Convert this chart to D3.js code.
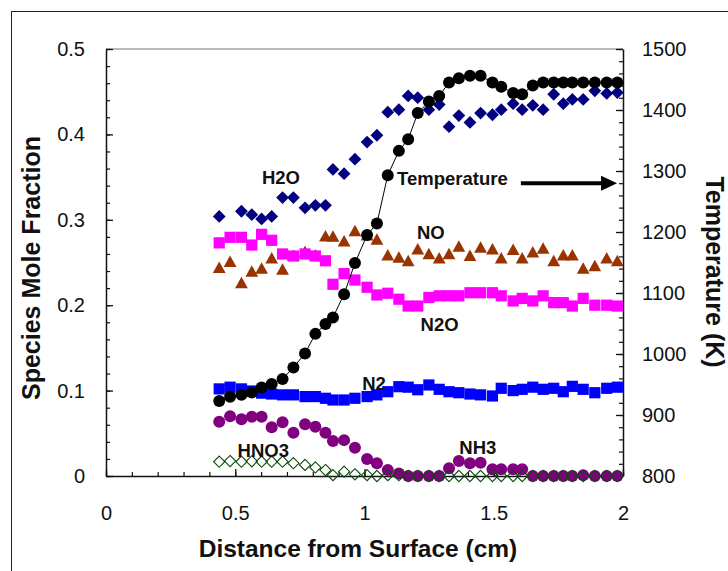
<!DOCTYPE html>
<html><head><meta charset="utf-8">
<script src="https://cdn.jsdelivr.net/npm/d3@7"></script>
<style>
html,body{margin:0;padding:0;background:#fff;}
svg{display:block;font-family:"Liberation Sans",Arial,sans-serif;}
</style></head>
<body><svg id="c" width="728" height="571"></svg>
<script>
// ---- data ----
const distance = [0.438,0.48,0.524,0.564,0.602,0.641,0.683,0.725,0.77,0.81,0.849,0.878,0.921,0.963,1.01,1.048,1.09,1.133,1.169,1.206,1.249,1.289,1.327,1.365,1.408,1.449,1.495,1.529,1.575,1.61,1.651,1.691,1.732,1.769,1.804,1.846,1.891,1.937,1.978];
const h2o = [0.304,null,0.310,0.306,0.301,0.304,0.326,0.326,0.314,0.317,0.317,0.359,0.354,0.371,0.391,0.399,0.426,0.429,0.445,0.443,0.429,0.435,0.409,0.422,0.414,0.425,0.423,0.429,0.436,0.429,0.434,0.429,0.447,0.436,0.441,0.441,0.451,0.448,0.449];
const no = [0.243,0.250,0.225,0.2385,0.242,0.254,0.241,0.257,0.2615,0.2576,0.280,0.2795,0.274,0.286,0.281,0.276,0.2576,0.255,0.251,0.2646,0.259,0.254,0.259,0.268,0.257,0.2666,0.2646,0.254,0.264,0.254,0.261,0.2655,0.251,0.2576,0.2576,0.242,0.245,0.254,0.251];
const n2o = [0.273,0.2795,0.2795,0.2705,0.283,0.276,0.26,0.2576,0.26,0.2576,0.252,0.2245,0.237,0.2295,0.221,0.212,0.214,0.207,0.199,0.199,0.209,0.211,0.211,0.211,0.2146,0.2146,0.2146,0.211,0.205,0.208,0.205,0.211,0.203,0.203,0.199,0.208,0.200,0.200,0.199];
const n2 = [0.102,0.104,0.102,0.0995,0.097,0.096,0.095,0.095,0.093,0.093,0.091,0.089,0.089,0.091,0.093,0.095,0.0987,0.1046,0.104,0.101,0.1066,0.1015,0.0987,0.0975,0.096,0.095,0.0937,0.1027,0.100,0.1015,0.104,0.1015,0.1027,0.0987,0.105,0.1015,0.0975,0.1027,0.104];
const nh3 = [0.0636,0.070,0.0664,0.0694,0.0694,0.057,0.063,0.0507,0.0605,0.0577,0.0507,0.041,0.042,0.033,0.020,0.015,0.007,0.003,0,0,0,0,0.009,0.0176,0.015,0.0156,0.0078,0.0078,0.0078,0.0078,0,0,0,0,0,0.001,0,0,0];
const hno3 = [0.0167,0.0175,0.0167,0.0172,0.0167,0.0167,0.0167,0.015,0.013,0.010,0.007,0.001,0.005,0.002,0.001,0,0.001,0.001,0,0,0,0,0,0,0,0,0,0,0,0,0,0,0,0,0,0,0,0,0];
const temperature = [923,930,933,937,945,951,959,978,1001,1033,1049,1060,1098,1149,1195,1214,1293,1333,1352,1395,1414,1423,1445,1452,1456,1456,1445,1438,1428,1426,1440,1445,1445,1445,1445,1445,1445,1445,1445];
const xTicks = [0,0.5,1,1.5,2];
const yTicks = [0,0.1,0.2,0.3,0.4,0.5];
const tTicks = [800,900,1000,1100,1200,1300,1400,1500];
const seriesLabels = [
  {text:"H2O", x:0.603, y:0.342},
  {text:"Temperature", x:1.126, y:0.3405},
  {text:"NO", x:1.203, y:0.278},
  {text:"N2O", x:1.217, y:0.170},
  {text:"N2", x:0.991, y:0.1005},
  {text:"HNO3", x:0.509, y:0.0217},
  {text:"NH3", x:1.367, y:0.0258}
];

// ---- layout ----
const L=106, R=623, T=49, B=476;
const svg = d3.select("#c");
const x = d3.scaleLinear().domain([0,2]).range([L,R]);
const y = d3.scaleLinear().domain([0,0.5]).range([B,T]);
const yT = d3.scaleLinear().domain([800,1500]).range([B,T]);

// outer frame
svg.append("rect").attr("x",11.5).attr("y",11.5).attr("width",800).attr("height",800)
  .attr("fill","none").attr("stroke","#222").attr("stroke-width",1);

// top gray border of plot area
svg.append("line").attr("x1",L).attr("x2",R).attr("y1",T).attr("y2",T)
  .attr("stroke","#a6a6a6").attr("stroke-width",1.5);

function styleAxis(g){
  g.selectAll(".domain").attr("stroke","#111").attr("stroke-width",1.5);
  g.selectAll(".tick line").attr("stroke","#111").attr("stroke-width",1.3);
  g.selectAll(".tick text").attr("fill","#111").style("font-size","20px")
    .style("font-family","'Liberation Sans',Arial,sans-serif");
}
// minor ticks
svg.append("g").attr("transform",`translate(${L},0)`)
  .call(d3.axisLeft(y).tickValues(d3.range(0,0.5001,0.02)).tickSizeInner(-4).tickSizeOuter(0).tickFormat(""))
  .call(g=>{g.select(".domain").remove(); g.selectAll(".tick line").attr("stroke","#111").attr("stroke-width",1.2);});
svg.append("g").attr("transform",`translate(${R},0)`)
  .call(d3.axisRight(yT).tickValues(d3.range(800,1500.1,20)).tickSizeInner(-4).tickSizeOuter(0).tickFormat(""))
  .call(g=>{g.select(".domain").remove(); g.selectAll(".tick line").attr("stroke","#111").attr("stroke-width",1.2);});
svg.append("g").attr("transform",`translate(0,${B})`)
  .call(d3.axisBottom(x).tickValues(d3.range(0,2.001,0.1)).tickSizeInner(-4).tickSizeOuter(0).tickFormat(""))
  .call(g=>{g.select(".domain").remove(); g.selectAll(".tick line").attr("stroke","#111").attr("stroke-width",1.2);});

// main axes
svg.append("g").attr("transform",`translate(${L},0)`)
  .call(d3.axisLeft(y).tickValues(yTicks).tickSizeInner(-7).tickSizeOuter(0).tickPadding(21).tickFormat(d3.format("")))
  .call(styleAxis);
svg.append("g").attr("transform",`translate(${R},0)`)
  .call(d3.axisRight(yT).tickValues(tTicks).tickSizeInner(-7).tickSizeOuter(0).tickPadding(19).tickFormat(d3.format("d")))
  .call(styleAxis);
svg.append("g").attr("transform",`translate(0,${B})`)
  .call(d3.axisBottom(x).tickValues(xTicks).tickSizeInner(-7).tickSizeOuter(0).tickPadding(30).tickFormat(d3.format("")))
  .call(styleAxis);

// axis titles
svg.append("text").attr("transform",`translate(40,${268}) rotate(-90)`)
  .attr("text-anchor","middle").style("font-size","25px").style("font-weight","bold").attr("fill","#111")
  .text("Species Mole Fraction");
svg.append("text").attr("transform",`translate(706,${272}) rotate(90)`)
  .attr("text-anchor","middle").style("font-size","25px").style("font-weight","bold").attr("fill","#111")
  .text("Temperature (K)");
svg.append("text").attr("x",358).attr("y",557)
  .attr("text-anchor","middle").style("font-size","24.5px").style("font-weight","bold").attr("fill","#111")
  .text("Distance from Surface (cm)");

// ---- marks ----
const idx = d3.range(distance.length);
const diamond = r => `M0,${-r}L${r},0L0,${r}L${-r},0Z`;
const tri = `M0,-7L6.4,4.5L-6.4,4.5Z`;

function pts(vals, scale){ return idx.filter(i=>vals[i]!==null).map(i=>({x:x(distance[i]), y:scale(vals[i])})); }

// H2O
svg.append("g").selectAll("path").data(pts(h2o,y)).join("path")
  .attr("d",diamond(6.4)).attr("transform",d=>`translate(${d.x},${d.y})`).attr("fill","#000080");
// NO
svg.append("g").selectAll("path").data(pts(no,y)).join("path")
  .attr("d",tri).attr("transform",d=>`translate(${d.x},${d.y})`).attr("fill","#993300");
// N2O
svg.append("g").selectAll("rect").data(pts(n2o,y)).join("rect")
  .attr("x",d=>d.x-5.6).attr("y",d=>d.y-5.6).attr("width",11.2).attr("height",11.2).attr("fill","#ff00ff");
// N2
svg.append("g").selectAll("rect").data(pts(n2,y)).join("rect")
  .attr("x",d=>d.x-5.6).attr("y",d=>d.y-5.6).attr("width",11.2).attr("height",11.2).attr("fill","#0000ff");
// NH3
svg.append("g").selectAll("circle").data(pts(nh3,y)).join("circle")
  .attr("cx",d=>d.x).attr("cy",d=>d.y).attr("r",6).attr("fill","#800080");
// HNO3
svg.append("g").selectAll("path").data(pts(hno3,y)).join("path")
  .attr("d",diamond(5.6)).attr("transform",d=>`translate(${d.x},${d.y})`)
  .attr("fill","none").attr("stroke","#0a4a0a").attr("stroke-width",1.1);
// Temperature line + markers
const tp = pts(temperature,yT);
svg.append("path").datum(tp).attr("d",d3.line().x(d=>d.x).y(d=>d.y))
  .attr("fill","none").attr("stroke","#000").attr("stroke-width",1);
svg.append("g").selectAll("circle").data(tp).join("circle")
  .attr("cx",d=>d.x).attr("cy",d=>d.y).attr("r",6).attr("fill","#000");

// labels
svg.append("g").selectAll("text").data(seriesLabels).join("text")
  .attr("x",d=>x(d.x)).attr("y",d=>y(d.y)).text(d=>d.text)
  .style("font-size","18.5px").style("font-weight","bold").attr("fill","#111");

// arrow
const ay = yT(1280), ax1 = x(1.605), ax2 = x(1.977);
svg.append("line").attr("x1",ax1).attr("x2",ax2-14).attr("y1",ay).attr("y2",ay)
  .attr("stroke","#000").attr("stroke-width",4);
svg.append("path").attr("d",`M${ax2},${ay}L${ax2-16},${ay-7.5}L${ax2-16},${ay+7.5}Z`).attr("fill","#000");
</script></body></html>
